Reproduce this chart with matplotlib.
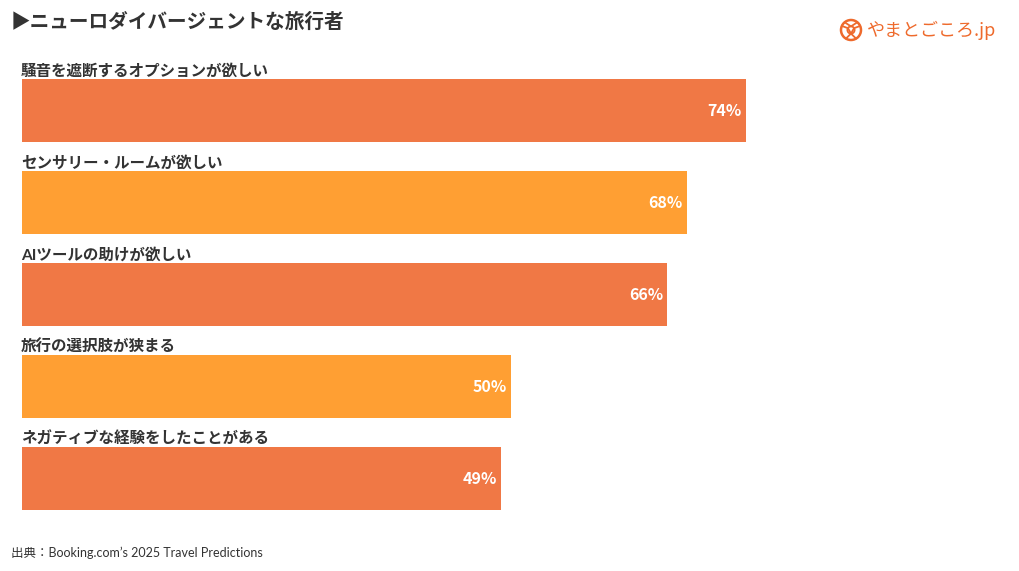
import matplotlib
matplotlib.use("Agg")
import matplotlib.pyplot as plt
from matplotlib.patches import Circle

plt.rcParams['font.family'] = ['Noto Sans CJK JP', 'DejaVu Sans']

title = "▶ニューロダイバージェントな旅行者"
source = "出典：Booking.com’s 2025 Travel Predictions"
logo_text = "やまとごころ.jp"
categories = ["騒音を遮断するオプションが欲しい", "センサリー・ルームが欲しい", "AIツールの助けが欲しい",
              "旅行の選択肢が狭まる", "ネガティブな経験をしたことがある"]
values = [74, 68, 66, 50, 49]
colors = ["#F07845", "#FF9F33", "#F07845", "#FF9F33", "#F07845"]

W, H = 1020, 571
fig = plt.figure(figsize=(W / 100, H / 100), dpi=100, facecolor='white')

# axes placed so that 1% is 9.78px and rows are 92px apart
ax = fig.add_axes([22 / W, 1 - 524.5 / H, 978 / W, 460 / H])
ax.set_xlim(0, 100)
ax.set_ylim(4.5, -0.5)
ax.axis('off')

latin_first = ['Lato', 'Noto Sans CJK JP', 'DejaVu Sans']

for i, (cat, val, col) in enumerate(zip(categories, values, colors)):
    ax.barh(i, val, height=63 / 92, color=col)
    ax.text(val - 0.45, i, f"{val}%", color='white', fontsize=11.5, fontweight='bold', ha='right', va='center')
    ax.text(-0.08, i - 0.345, cat, color='#333333', fontsize=11.2, fontweight='bold', ha='left', va='bottom',
            family=latin_first, clip_on=False)

fig.text(11 / W, 1 - 22 / H, title, color='#333333', fontsize=14.15, fontweight='bold', ha='left', va='center')
fig.text(11 / W, 1 - 552.5 / H, source, color='#333333', fontsize=9.0, ha='left', va='center', family=latin_first)

# logo
logo_col = '#EE6A2C'
ax_logo = fig.add_axes([839 / W, 1 - 42 / H, 24 / W, 24 / H])
ax_logo.set_xlim(-12, 12)
ax_logo.set_ylim(-12, 12)
ax_logo.axis('off')
ax_logo.add_patch(Circle((0, 0), 10, fill=False, ec=logo_col, lw=1.8))
ax_logo.add_patch(Circle((0, 0), 3.6, fill=False, ec=logo_col, lw=1.3))
ax_logo.plot([-9, -3, 0, 3, 9], [4, 1.8, -3.6, 1.8, 4], color=logo_col, lw=1.3)
ax_logo.plot([-5, 0, 5], [-8.5, -3.6, -8.5], color=logo_col, lw=1.3)
ax_logo.plot([-6, 0, 6], [7.5, 3.6, 7.5], color=logo_col, lw=1.3)
fig.text(867 / W, 1 - 30 / H, logo_text, color=logo_col, fontsize=13.0, fontweight='normal', ha='left', va='center')

plt.savefig("out.png", dpi=100)
plt.close()
